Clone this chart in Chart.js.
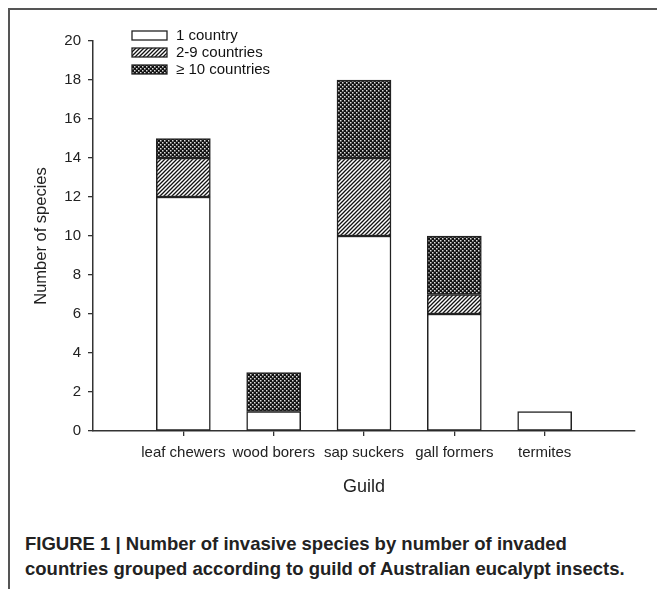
<!DOCTYPE html>
<html lang="en">
<head>
    <meta charset="UTF-8">
    <title>Invasive species by guild</title>
    <script src="https://cdn.jsdelivr.net/npm/chart.js"></script>
    <style>
        body {
            margin: 0;
            background: #fff;
            width: 657px;
            height: 589px;
            overflow: hidden;
            position: relative;
            font-family: "Liberation Sans", Arial, sans-serif;
        }
        .frame {
            position: absolute;
            left: 8px;
            top: 8px;
            width: 660px;
            height: 600px;
            border-top: 2px solid #555;
            border-left: 2px solid #555;
        }
        #chart {
            position: absolute;
            left: 0;
            top: 0;
        }
        .caption {
            position: absolute;
            left: 25px;
            top: 531px;
            font-weight: bold;
            font-size: 18.5px;
            line-height: 25px;
            color: #222;
            white-space: nowrap;
        }
    </style>
</head>
<body>
    <div class="frame"></div>
    <canvas id="chart" width="657" height="520"></canvas>
    <div class="caption">
        FIGURE 1 | Number of invasive species by number of invaded<br>
        countries grouped according to guild of Australian eucalypt insects.
    </div>

    <script>
        // guilds and species counts per number of invaded countries
        var guilds = ['leaf chewers', 'wood borers', 'sap suckers', 'gall formers', 'termites'];
        var oneCountry = [12, 1, 10, 6, 1];
        var twoToNine = [2, 0, 4, 1, 0];
        var tenPlus = [1, 2, 4, 3, 0];
        var seriesNames = ['1 country', '2-9 countries', '\u2265 10 countries'];
        var yTicks = [0, 2, 4, 6, 8, 10, 12, 14, 16, 18, 20];

        // fill patterns
        function hatchPattern() {
            var c = document.createElement('canvas');
            c.width = 4; c.height = 4;
            var g = c.getContext('2d');
            g.fillStyle = '#fff';
            g.fillRect(0, 0, 4, 4);
            g.strokeStyle = '#111';
            g.lineWidth = 1.3;
            g.beginPath();
            g.moveTo(-1, 5); g.lineTo(5, -1);
            g.moveTo(-1, 1); g.lineTo(1, -1);
            g.moveTo(3, 5); g.lineTo(5, 3);
            g.stroke();
            return g.createPattern(c, 'repeat');
        }

        function dotPattern() {
            var c = document.createElement('canvas');
            c.width = 4; c.height = 4;
            var g = c.getContext('2d');
            g.fillStyle = '#111';
            g.fillRect(0, 0, 4, 4);
            g.fillStyle = '#ddd';
            g.fillRect(0, 0, 1.5, 1.5);
            g.fillRect(2, 2, 1.5, 1.5);
            return g.createPattern(c, 'repeat');
        }

        var fills = ['#fff', hatchPattern(), dotPattern()];
        var values = [oneCountry, twoToNine, tenPlus];

        var datasets = values.map(function(vals, k) {
            return {
                label: seriesNames[k],
                data: vals.map(function(v, i) { return { x: i + 1, y: v }; }),
                backgroundColor: fills[k],
                borderColor: '#222',
                borderWidth: 1.5,
                borderSkipped: false,
                barThickness: 54
            };
        });

        // small legend drawn inside the plot, top left
        var boxLegend = {
            id: 'boxLegend',
            afterDraw: function(chart) {
                var ctx = chart.ctx;
                ctx.save();
                ctx.font = '15px "Liberation Sans", Arial, sans-serif';
                ctx.textBaseline = 'middle';
                chart.data.datasets.forEach(function(ds, k) {
                    var top = 31 + k * 17;
                    ctx.fillStyle = ds.backgroundColor;
                    ctx.fillRect(132, top, 35, 9);
                    ctx.strokeStyle = '#222';
                    ctx.lineWidth = 1.3;
                    ctx.strokeRect(132, top, 35, 9);
                    ctx.fillStyle = '#111';
                    ctx.fillText(ds.label, 176, top + 5);
                });
                ctx.restore();
            }
        };

        var font15 = { family: '"Liberation Sans", Arial, sans-serif', size: 15 };

        new Chart(document.getElementById('chart'), {
            type: 'bar',
            data: { datasets: datasets },
            plugins: [boxLegend],
            options: {
                responsive: false,
                animation: false,
                layout: { padding: { top: 41, right: 22, left: 0, bottom: 0 } },
                plugins: {
                    legend: { display: false },
                    tooltip: { enabled: false }
                },
                scales: {
                    x: {
                        type: 'linear',
                        min: 0,
                        max: guilds.length + 1,
                        offset: false,
                        stacked: true,
                        afterBuildTicks: function(scale) {
                            scale.ticks = guilds.map(function(g, i) { return { value: i + 1 }; });
                        },
                        afterFit: function(scale) { scale.height = 89; },
                        ticks: {
                            autoSkip: false,
                            maxRotation: 0,
                            padding: 8,
                            color: '#222',
                            font: font15,
                            callback: function(v) { return guilds[v - 1]; }
                        },
                        grid: { display: true, offset: false, drawOnChartArea: false, drawTicks: true, tickLength: 5, color: '#333', lineWidth: 1.3 },
                        border: { display: true, color: '#333', width: 1.5 },
                        title: {
                            display: true,
                            text: 'Guild',
                            color: '#222',
                            font: { family: '"Liberation Sans", Arial, sans-serif', size: 18 },
                            padding: 22
                        }
                    },
                    y: {
                        min: 0,
                        max: 20,
                        stacked: true,
                        afterBuildTicks: function(scale) {
                            scale.ticks = yTicks.map(function(v) { return { value: v }; });
                        },
                        afterFit: function(scale) { scale.width = 93; },
                        ticks: {
                            padding: 7,
                            color: '#222',
                            font: font15
                        },
                        grid: { display: true, drawOnChartArea: false, drawTicks: true, tickLength: 5, color: '#333', lineWidth: 1.3 },
                        border: { display: true, color: '#333', width: 1.5 },
                        title: {
                            display: true,
                            text: 'Number of species',
                            color: '#222',
                            font: { family: '"Liberation Sans", Arial, sans-serif', size: 16.5 },
                            padding: 32
                        }
                    }
                }
            }
        });
    </script>
</body>
</html>
